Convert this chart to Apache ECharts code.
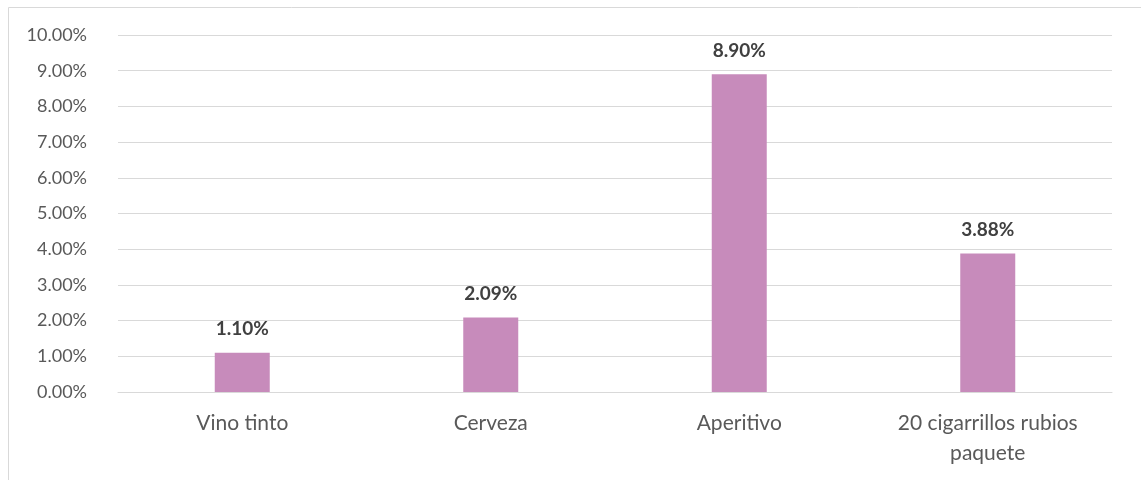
<!DOCTYPE html>
<html><head><meta charset="utf-8">
<script src="https://cdn.jsdelivr.net/npm/echarts@6/dist/echarts.min.js"></script>
<style>html,body{margin:0;padding:0;background:#fff}#c{width:1141px;height:480px}</style>
</head><body><div id="c"></div>
<script>
const categories = ["Vino tinto", "Cerveza", "Aperitivo", "20 cigarrillos rubios\npaquete"];
const values = [1.10, 2.09, 8.90, 3.88];
const yTicks = [0, 1, 2, 3, 4, 5, 6, 7, 8, 9, 10];

const chart = echarts.init(document.getElementById('c'), null, {renderer: 'canvas'});
const font = 'Lato, "Open Sans", sans-serif';
chart.setOption({
  animation: false,
  graphic: [{
    type: 'rect', left: 6, top: 5, silent: true,
    shape: {width: 1133, height: 500},
    style: {fill: 'none', stroke: '#d9d9d9', lineWidth: 1}
  }],
  grid: {left: 118, right: 29, top: 35, bottom: 88, containLabel: false},
  xAxis: {
    type: 'category', data: categories,
    axisLine: {lineStyle: {color: '#d9d9d9', width: 1}},
    axisTick: {show: false},
    axisLabel: {color: '#595959', fontSize: 21, fontFamily: font, margin: 16, lineHeight: 30}
  },
  yAxis: {
    type: 'value', min: yTicks[0], max: yTicks[yTicks.length - 1], interval: 1,
    axisLine: {show: false}, axisTick: {show: false},
    splitLine: {lineStyle: {color: '#d9d9d9', width: 1}},
    axisLabel: {color: '#595959', fontSize: 18, fontFamily: font, margin: 31,
      formatter: v => v.toFixed(2) + '%'}
  },
  series: [{
    type: 'bar', data: values, barWidth: 55,
    itemStyle: {color: '#c78bbb'},
    label: {show: true, position: 'top', distance: 14, color: '#404040', fontSize: 19,
      fontWeight: 'bold', fontFamily: font, formatter: p => p.value.toFixed(2) + '%'}
  }]
});
</script></body></html>
